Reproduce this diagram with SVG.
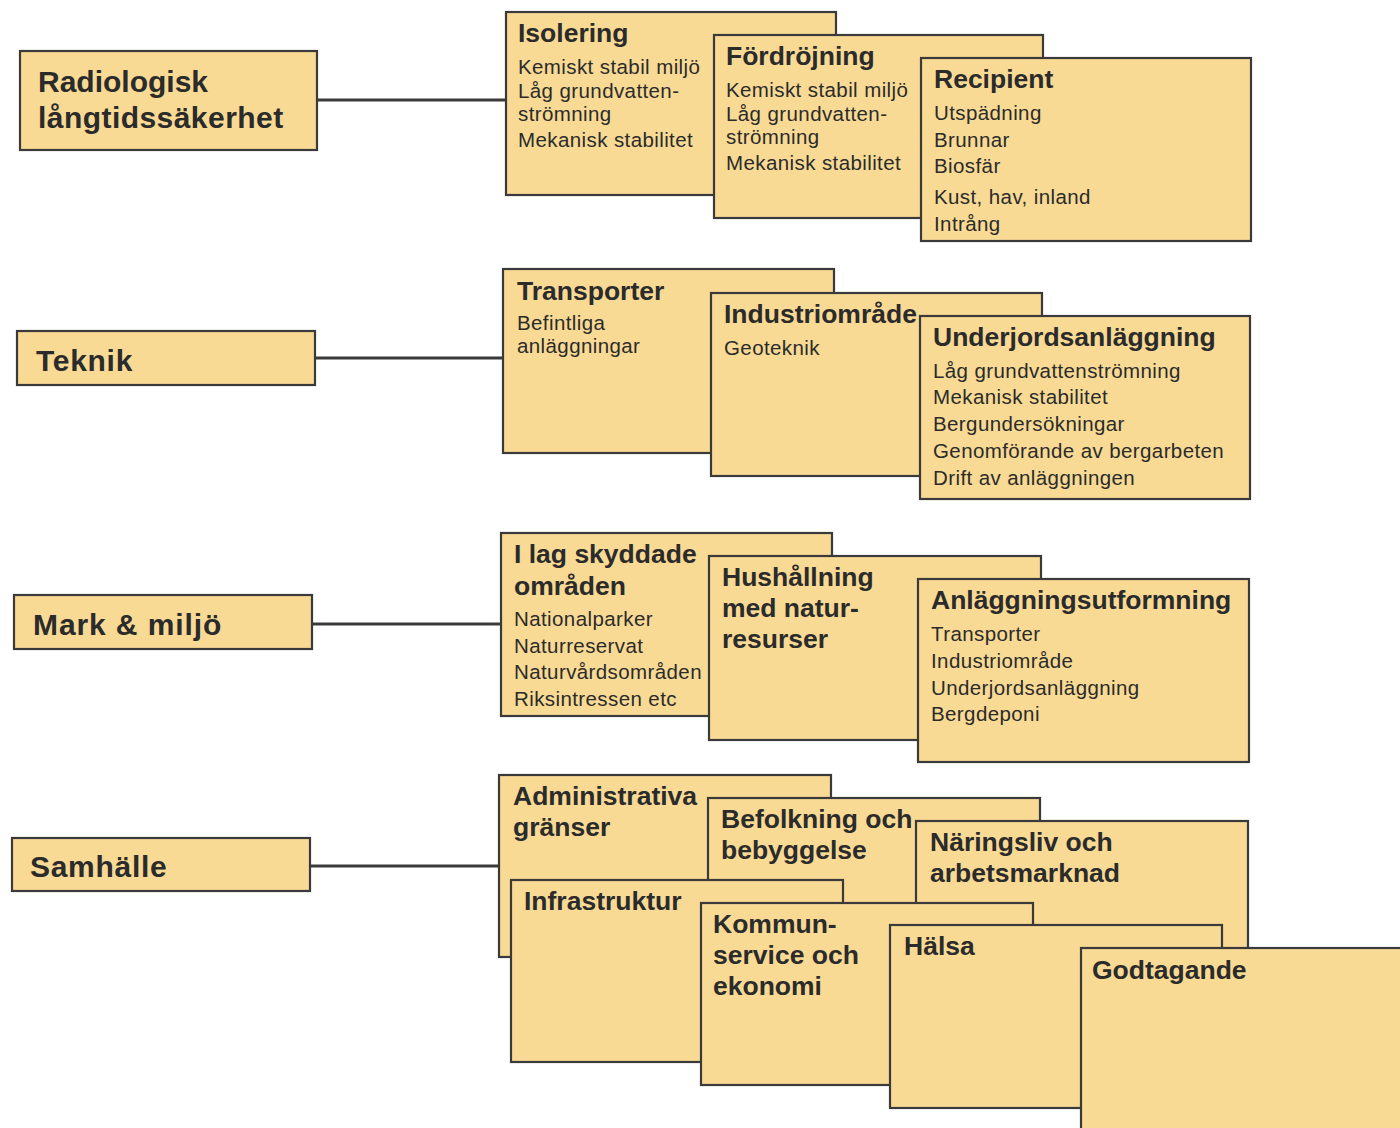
<svg xmlns="http://www.w3.org/2000/svg" width="1400" height="1128" viewBox="0 0 1400 1128">
<style>
.b{fill:#F8DA94;stroke:#3a3a3a;stroke-width:2.2}
.main{font-family:"Liberation Sans",Arial,sans-serif;font-weight:bold;font-size:30px;fill:#2b2b2b;letter-spacing:0.7px}
.t{font-family:"Liberation Sans",Arial,sans-serif;font-weight:bold;font-size:26.5px;fill:#2b2b2b}
.i{font-family:"Liberation Sans",Arial,sans-serif;font-size:20.5px;fill:#2b2b2b;letter-spacing:0.4px}
.c{stroke:#3a3a3a;stroke-width:3;fill:none}
</style>
<rect width="1400" height="1128" fill="#ffffff"/>
<g id="connectors">
<line class="c" x1="317" y1="100" x2="506" y2="100"/>
<line class="c" x1="315" y1="358" x2="503" y2="358"/>
<line class="c" x1="312" y1="624" x2="501" y2="624"/>
<line class="c" x1="310" y1="866" x2="499" y2="866"/>
</g>
<g id="radiologisk"><rect class="b" x="20" y="51" width="297" height="99"/><text class="main" x="38" y="92" style="letter-spacing:0">Radiologisk</text><text class="main" x="38" y="128" style="letter-spacing:0.45px">långtidssäkerhet</text></g>
<g id="teknik"><rect class="b" x="17" y="331" width="298" height="54"/><text class="main" x="36" y="371">Teknik</text></g>
<g id="markmiljo"><rect class="b" x="14" y="595" width="298" height="54"/><text class="main" x="33" y="635" style="letter-spacing:0.9px">Mark &amp; miljö</text></g>
<g id="samhalle"><rect class="b" x="12" y="838" width="298" height="53"/><text class="main" x="30" y="877">Samhälle</text></g>

<g id="isolering"><rect class="b" x="506" y="12" width="330" height="183"/>
<text class="t" x="518" y="42">Isolering</text>
<text class="i" x="518" y="74">Kemiskt stabil miljö</text>
<text class="i" x="518" y="98">Låg grundvatten-</text>
<text class="i" x="518" y="121">strömning</text>
<text class="i" x="518" y="147">Mekanisk stabilitet</text></g>
<g id="fordrojning"><rect class="b" x="714" y="35" width="329" height="183"/>
<text class="t" x="726" y="65">Fördröjning</text>
<text class="i" x="726" y="97">Kemiskt stabil miljö</text>
<text class="i" x="726" y="121">Låg grundvatten-</text>
<text class="i" x="726" y="144">strömning</text>
<text class="i" x="726" y="170">Mekanisk stabilitet</text></g>
<g id="recipient"><rect class="b" x="921" y="58" width="330" height="183"/>
<text class="t" x="934" y="88">Recipient</text>
<text class="i" x="934" y="120">Utspädning</text>
<text class="i" x="934" y="147">Brunnar</text>
<text class="i" x="934" y="173">Biosfär</text>
<text class="i" x="934" y="204">Kust, hav, inland</text>
<text class="i" x="934" y="231">Intrång</text></g>

<g id="transporter"><rect class="b" x="503" y="269" width="331" height="184"/>
<text class="t" x="517" y="300">Transporter</text>
<text class="i" x="517" y="330">Befintliga</text>
<text class="i" x="517" y="353">anläggningar</text></g>
<g id="industriomrade"><rect class="b" x="711" y="293" width="331" height="183"/>
<text class="t" x="724" y="323">Industriområde</text>
<text class="i" x="724" y="355">Geoteknik</text></g>
<g id="underjordsanlaggning"><rect class="b" x="920" y="316" width="330" height="183"/>
<text class="t" x="933" y="346">Underjordsanläggning</text>
<text class="i" x="933" y="378">Låg grundvattenströmning</text>
<text class="i" x="933" y="404">Mekanisk stabilitet</text>
<text class="i" x="933" y="431">Bergundersökningar</text>
<text class="i" x="933" y="458">Genomförande av bergarbeten</text>
<text class="i" x="933" y="485">Drift av anläggningen</text></g>

<g id="ilagskyddade"><rect class="b" x="501" y="533" width="331" height="183"/>
<text class="t" x="514" y="563">I lag skyddade</text>
<text class="t" x="514" y="595">områden</text>
<text class="i" x="514" y="626">Nationalparker</text>
<text class="i" x="514" y="653">Naturreservat</text>
<text class="i" x="514" y="679">Naturvårdsområden</text>
<text class="i" x="514" y="706">Riksintressen etc</text></g>
<g id="hushallning"><rect class="b" x="709" y="556" width="332" height="184"/>
<text class="t" x="722" y="586">Hushållning</text>
<text class="t" x="722" y="617">med natur-</text>
<text class="t" x="722" y="648">resurser</text></g>
<g id="anlaggningsutformning"><rect class="b" x="918" y="579" width="331" height="183"/>
<text class="t" x="931" y="609">Anläggningsutformning</text>
<text class="i" x="931" y="641">Transporter</text>
<text class="i" x="931" y="668">Industriområde</text>
<text class="i" x="931" y="695">Underjordsanläggning</text>
<text class="i" x="931" y="721">Bergdeponi</text></g>

<g id="administrativa"><rect class="b" x="499" y="775" width="332" height="182"/>
<text class="t" x="513" y="805">Administrativa</text>
<text class="t" x="513" y="836">gränser</text></g>
<g id="befolkning"><rect class="b" x="708" y="798" width="332" height="182"/>
<text class="t" x="721" y="828">Befolkning och</text>
<text class="t" x="721" y="859">bebyggelse</text></g>
<g id="naringsliv"><rect class="b" x="916" y="821" width="332" height="182"/>
<text class="t" x="930" y="851">Näringsliv och</text>
<text class="t" x="930" y="882">arbetsmarknad</text></g>
<g id="infrastruktur"><rect class="b" x="511" y="880" width="332" height="182"/>
<text class="t" x="524" y="910">Infrastruktur</text></g>
<g id="kommunservice"><rect class="b" x="701" y="903" width="332" height="182"/>
<text class="t" x="713" y="933">Kommun-</text>
<text class="t" x="713" y="964">service och</text>
<text class="t" x="713" y="995">ekonomi</text></g>
<g id="halsa"><rect class="b" x="890" y="925" width="332" height="183"/>
<text class="t" x="904" y="955">Hälsa</text></g>
<g id="godtagande"><rect class="b" x="1081" y="948" width="340" height="200"/>
<text class="t" x="1092" y="979">Godtagande</text></g>
</svg>
